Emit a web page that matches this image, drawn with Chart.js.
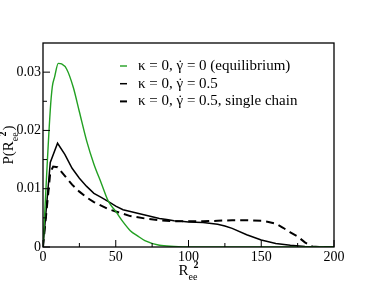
<!DOCTYPE html>
<html>
<head>
<meta charset="utf-8">
<style>
  html, body { margin: 0; padding: 0; background: #fff; }
  #wrap { width: 388px; height: 291px; position: relative; }
</style>
</head>
<body>
<div id="wrap"><canvas id="chart"></canvas></div>
<script src="https://cdn.jsdelivr.net/npm/chart.js@4/dist/chart.umd.min.js"></script>
<script>
(function () {
  "use strict";

  // ── Data ──
  var EQ_X = [0, 5, 6.4, 8, 10.5, 12.8, 16.3, 20.8, 25, 30, 35, 40, 45, 50, 55, 60, 65, 70, 80, 90, 100, 120, 150, 200];
  var EQ_Y = [0, 0.0235, 0.0275, 0.0292, 0.0315, 0.0314, 0.0305, 0.0274, 0.0232, 0.0182, 0.0142, 0.0110, 0.0078, 0.0061, 0.0043, 0.0028, 0.0019, 0.0011, 0.0003, 0.0001, 0, 0, 0, 0];

  var SHEAR_X = [0, 5, 10, 15, 20, 25, 30, 35, 40, 45, 50, 55, 60, 65, 70, 75, 80, 85, 90, 95, 100, 110, 120, 125, 130, 140, 150, 160, 170, 180, 190, 200];
  var SHEAR_Y = [0, 0.0145, 0.0178, 0.0159, 0.0135, 0.0118, 0.0104, 0.0092, 0.0085, 0.0078, 0.0070, 0.0064, 0.0061, 0.0058, 0.0055, 0.0052, 0.0049, 0.0047, 0.0045, 0.0044, 0.0043, 0.0042, 0.0039, 0.0036, 0.0032, 0.0021, 0.0012, 0.0006, 0.0003, 0.0001, 0, 0];

  var SINGLE_X = [0, 5, 7, 10, 15, 20, 25, 30, 35, 40, 45, 50, 55, 60, 70, 80, 90, 100, 110, 120, 130, 140, 150, 155, 160, 165, 170, 175, 180, 185, 190, 200];
  var SINGLE_Y = [0, 0.0128, 0.0138, 0.0137, 0.0122, 0.0107, 0.0095, 0.0085, 0.0077, 0.0071, 0.0065, 0.0061, 0.0057, 0.0053, 0.0049, 0.0046, 0.0044, 0.0044, 0.0044, 0.0045, 0.0046, 0.0046, 0.0045, 0.0043, 0.0040, 0.0033, 0.0025, 0.0018, 0.0008, 0.0001, 0, 0];

  var LABELS = [
    "\u03ba = 0, \u03b3\u0307 = 0 (equilibrium)",
    "\u03ba = 0, \u03b3\u0307 = 0.5",
    "\u03ba = 0, \u03b3\u0307 = 0.5, single chain"
  ];

  var X_TICKS = [0, 50, 100, 150, 200];
  var X_MINOR = [25, 75, 125, 175];
  var Y_TICKS = [0, 0.01, 0.02, 0.03];
  var Y_MINOR = [0.005, 0.015, 0.025];

  var SERIF = "'Liberation Serif', 'Times New Roman', serif";

  function pts(xs, ys) {
    return xs.map(function (x, i) { return { x: x, y: ys[i] }; });
  }

  // ── draw text in pieces (sub / superscripts) ──
  function richWidth(ctx, parts) {
    var w = 0;
    parts.forEach(function (p) {
      ctx.font = (p.bold ? "bold " : "") + p.size + "px " + SERIF;
      w += ctx.measureText(p.t).width + (p.dx || 0);
    });
    return w;
  }
  function richDraw(ctx, parts, x, y) {
    parts.forEach(function (p) {
      ctx.font = (p.bold ? "bold " : "") + p.size + "px " + SERIF;
      x += (p.dx || 0);
      ctx.fillText(p.t, x, y + (p.dy || 0));
      x += ctx.measureText(p.t).width;
    });
  }

  // legend label: put the dot over gamma by hand, the font's combining mark sits badly
  function drawLabel(ctx, label, x, y) {
    var bits = label.split("\u03b3\u0307");
    ctx.fillText(bits[0], x, y);
    x += ctx.measureText(bits[0]).width;
    var gw = ctx.measureText("\u03b3").width;
    ctx.fillText("\u03b3", x, y);
    ctx.textAlign = "center";
    ctx.fillText("\u02d9", x + gw / 2 + 0.5, y);
    ctx.textAlign = "left";
    x += gw;
    ctx.fillText(bits[1], x, y);
  }

  var decor = {
    id: "decor",
    afterDatasetsDraw: function (chart) {
      var ctx = chart.ctx, a = chart.chartArea;
      var xs = chart.scales.x, ys = chart.scales.y;
      ctx.save();

      // frame + inward ticks
      ctx.strokeStyle = "#000";
      ctx.lineWidth = 1.3;
      ctx.strokeRect(a.left, a.top, a.right - a.left, a.bottom - a.top);
      ctx.lineWidth = 1;
      ctx.beginPath();
      X_TICKS.forEach(function (v) { var p = xs.getPixelForValue(v); ctx.moveTo(p, a.bottom); ctx.lineTo(p, a.bottom - 7); });
      X_MINOR.forEach(function (v) { var p = xs.getPixelForValue(v); ctx.moveTo(p, a.bottom); ctx.lineTo(p, a.bottom - 4); });
      Y_TICKS.forEach(function (v) { var p = ys.getPixelForValue(v); ctx.moveTo(a.left, p); ctx.lineTo(a.left + 7, p); });
      Y_MINOR.forEach(function (v) { var p = ys.getPixelForValue(v); ctx.moveTo(a.left, p); ctx.lineTo(a.left + 4, p); });
      ctx.stroke();

      // legend inside plot
      ctx.fillStyle = "#000";
      ctx.textBaseline = "middle";
      ctx.textAlign = "left";
      chart.data.datasets.forEach(function (ds, i) {
        var y = a.top + 23 + i * 17.7;
        ctx.strokeStyle = ds.borderColor;
        ctx.lineWidth = ds.borderWidth;
        ctx.setLineDash(ds.borderDash || []);
        ctx.beginPath();
        ctx.moveTo(a.left + 77, y);
        ctx.lineTo(a.left + 84, y);
        ctx.stroke();
        ctx.setLineDash([]);
        ctx.font = "15px " + SERIF;
        drawLabel(ctx, ds.label, a.left + 95, y);
      });

      // axis titles
      ctx.textBaseline = "alphabetic";
      var xt = [
        { t: "R", size: 15 },
        { t: "ee", size: 10, dy: 5 },
        { t: "2", size: 10, bold: true, dy: -7, dx: -4 }
      ];
      var cx = (a.left + a.right) / 2;
      richDraw(ctx, xt, cx - richWidth(ctx, xt) / 2, 275);

      var yt = [
        { t: "P(R", size: 15 },
        { t: "ee", size: 10, dy: 5 },
        { t: "2", size: 10, bold: true, dy: -7, dx: -4 },
        { t: ")", size: 15, dx: 1 }
      ];
      ctx.translate(13, (a.top + a.bottom) / 2);
      ctx.rotate(-Math.PI / 2);
      richDraw(ctx, yt, -richWidth(ctx, yt) / 2, 0);
      ctx.restore();
    }
  };

  var tickFont = { family: SERIF, size: 14 };

  new Chart(document.getElementById("chart"), {
    type: "line",
    data: {
      datasets: [
        { label: LABELS[0], data: pts(EQ_X, EQ_Y), borderColor: "#22a022", borderWidth: 1.4, cubicInterpolationMode: "monotone" },
        { label: LABELS[1], data: pts(SHEAR_X, SHEAR_Y), borderColor: "#000", borderWidth: 1.5 },
        { label: LABELS[2], data: pts(SINGLE_X, SINGLE_Y), borderColor: "#000", borderWidth: 2, borderDash: [8, 5] }
      ]
    },
    options: {
      responsive: true,
      maintainAspectRatio: false,
      animation: false,
      layout: { padding: { left: 0, top: 43, right: 54, bottom: 0 } },
      elements: { point: { radius: 0 }, line: { tension: 0 } },
      plugins: { legend: { display: false }, tooltip: { enabled: false } },
      scales: {
        x: {
          type: "linear", min: 0, max: 200,
          grid: { display: false, drawTicks: false }, border: { display: false },
          afterBuildTicks: function (s) { s.ticks = X_TICKS.map(function (v) { return { value: v }; }); },
          afterFit: function (s) { s.height = 44; },
          ticks: { font: tickFont, color: "#000", padding: 2, maxRotation: 0, callback: function (v) { return String(v); } }
        },
        y: {
          min: 0, max: 0.035,
          grid: { display: false, drawTicks: false }, border: { display: false },
          afterBuildTicks: function (s) { s.ticks = Y_TICKS.map(function (v) { return { value: v }; }); },
          afterFit: function (s) { s.width = 43; },
          ticks: { font: tickFont, color: "#000", padding: 2, callback: function (v) { return v === 0 ? "0" : v.toFixed(2); } }
        }
      }
    },
    plugins: [decor]
  });
})();
</script>
</body>
</html>
